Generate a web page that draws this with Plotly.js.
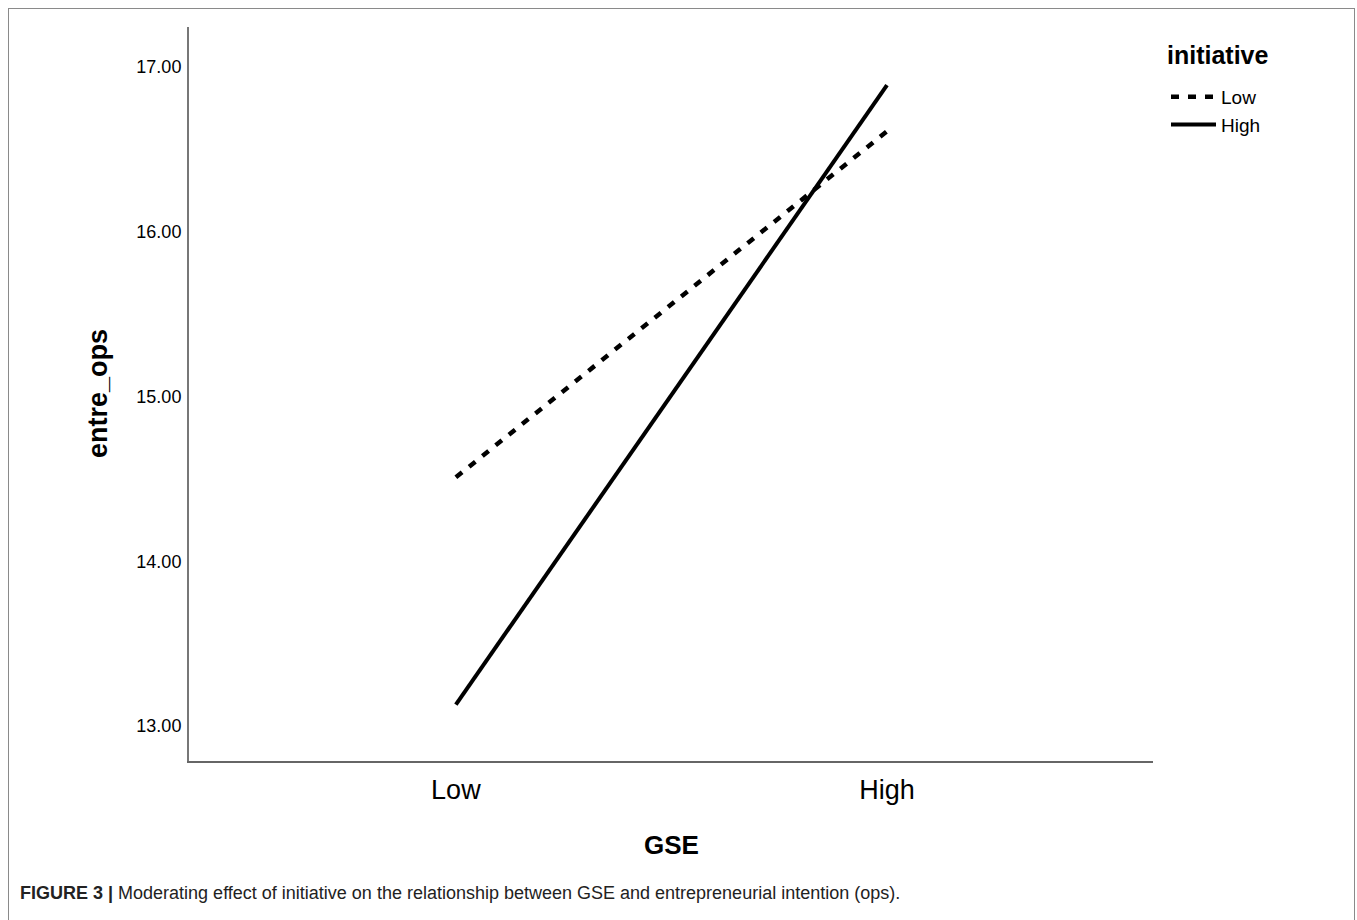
<!DOCTYPE html>
<html>
<head>
<meta charset="utf-8">
<script src="https://cdn.plot.ly/plotly-3.0.1.min.js"></script>
<style>
  html, body { margin: 0; padding: 0; background: #fff; }
  #wrap { position: relative; width: 1357px; height: 920px; overflow: hidden; }
  #chart { position: absolute; left: 0; top: 0; width: 1357px; height: 920px; }
  #frame { position: absolute; left: 8px; top: 8px; width: 1347px; height: 1000px;
           border: 1px solid #8a8a8a; box-sizing: border-box; pointer-events: none; }
</style>
</head>
<body>
<div id="wrap">
  <div id="chart"></div>
  <div id="frame"></div>
</div>
<script>
// Data
const gseLevels = ["Low", "High"];
const initiativeLow = [14.51, 16.61];
const initiativeHigh = [13.13, 16.89];
const yTicks = [13, 14, 15, 16, 17];

const FONT = "Liberation Sans, Arial, sans-serif";
const PW = 964, PH = 734, ML = 189, MT = 27;
const px = (x) => (x - ML) / PW;
const py = (y) => (MT + PH - y) / PH;

const traces = [
  {
    x: [0, 1], y: initiativeLow, name: "Low", mode: "lines", type: "scatter",
    line: { color: "#000", width: 4.5, dash: "8px,9px" }
  },
  {
    x: [0, 1], y: initiativeHigh, name: "High", mode: "lines", type: "scatter",
    line: { color: "#000", width: 4 }
  }
];

const layout = {
  width: 1357, height: 920,
  margin: { l: ML, r: 1357 - ML - PW, t: MT, b: 920 - MT - PH },
  paper_bgcolor: "#fff", plot_bgcolor: "#fff",
  showlegend: true,
  legend: {
    x: px(1166), xanchor: "left", y: py(78), yanchor: "top",
    font: { family: FONT, size: 19, color: "#000" },
    itemwidth: 45, tracegroupgap: 0, bgcolor: "rgba(0,0,0,0)"
  },
  xaxis: {
    range: [-0.619, 1.617],
    tickvals: [0, 1], ticktext: gseLevels,
    showgrid: false, zeroline: false,
    showline: true, linecolor: "#666", linewidth: 2,
    ticks: "", tickfont: { family: FONT, size: 27, color: "#000" },
    ticklabelstandoff: 4,
    fixedrange: true
  },
  yaxis: {
    range: [12.788, 17.243],
    tickvals: yTicks, tickformat: ".2f",
    showgrid: false, zeroline: false,
    showline: true, linecolor: "#777", linewidth: 2,
    ticks: "", tickfont: { family: FONT, size: 18, color: "#000" },
    ticklabelstandoff: 2,
    fixedrange: true
  },
  annotations: [
    { text: "<b>initiative</b>", xref: "paper", yref: "paper", x: px(1165), y: py(55),
      xanchor: "left", yanchor: "middle", showarrow: false,
      font: { family: FONT, size: 25, color: "#000" } },
    { text: "<b>GSE</b>", xref: "paper", yref: "paper", x: px(671), y: py(845),
      xanchor: "center", yanchor: "middle", showarrow: false,
      font: { family: FONT, size: 26, color: "#000" } },
    { text: "<b>entre_ops</b>", xref: "paper", yref: "paper", x: px(98), y: py(394),
      xanchor: "center", yanchor: "middle", showarrow: false, textangle: -90,
      font: { family: FONT, size: 27, color: "#000" } },
    { text: "<b>FIGURE 3 |</b> Moderating effect of initiative on the relationship between GSE and entrepreneurial intention (ops).",
      xref: "paper", yref: "paper", x: px(18), y: py(893),
      xanchor: "left", yanchor: "middle", showarrow: false,
      font: { family: FONT, size: 18, color: "#222" } }
  ]
};

Plotly.newPlot("chart", traces, layout, { displayModeBar: false, staticPlot: true });
</script>
</body>
</html>
